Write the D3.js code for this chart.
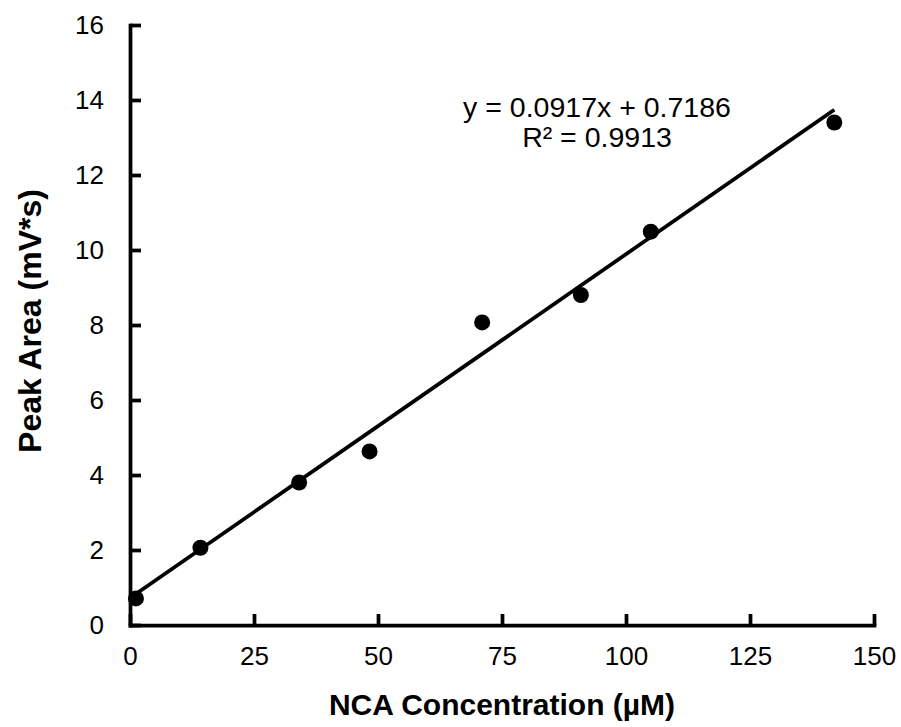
<!DOCTYPE html>
<html>
<head>
<meta charset="utf-8">
<script src="https://cdn.jsdelivr.net/npm/d3@7"></script>
<style>
  body { margin: 0; background: #fff; }
  text { font-family: "Liberation Sans", Arial, sans-serif; fill: #000; }
</style>
</head>
<body>
<div id="chart"></div>
<script>
// Data
let concX = [1.2, 14.2, 34.1, 48.3, 71.0, 90.9, 105.0, 142.0];
let peakY = [0.71, 2.06, 3.8, 4.63, 8.07, 8.8, 10.49, 13.4];
let xTicks = [0, 25, 50, 75, 100, 125, 150];
let yTicks = [0, 2, 4, 6, 8, 10, 12, 14, 16];
let slope = 0.0917, intercept = 0.7186;
let eqLines = ["y = 0.0917x + 0.7186", "R\u00b2 = 0.9913"];

let margin = { top: 25, right: 27, bottom: 102, left: 130 },
  width = 901 - margin.left - margin.right,
  height = 727 - margin.top - margin.bottom;

let font = "'Liberation Sans', Arial, sans-serif";

let svg = d3
  .select("#chart")
  .append("svg")
  .attr("width", 901)
  .attr("height", 727)
  .append("g")
  .attr("transform", "translate(" + margin.left + "," + margin.top + ")");

let x = d3.scaleLinear().domain([0, 150]).range([0, width]);
let y = d3.scaleLinear().domain([0, 16]).range([height, 0]);

// x-axis, ticks pointing inward
let xAxisEl = svg
  .append("g")
  .attr("class", "x axis")
  .attr("transform", "translate(0," + height + ")")
  .call(d3.axisBottom(x).tickValues(xTicks).tickSize(-11).tickPadding(22).tickSizeOuter(0));

// y-axis, ticks pointing inward
let yAxisEl = svg
  .append("g")
  .attr("class", "y axis")
  .call(d3.axisLeft(y).tickValues(yTicks).tickSize(-11).tickPadding(26).tickSizeOuter(0));

svg.selectAll(".axis").attr("font-family", font).attr("font-size", 26);
svg.selectAll(".axis path, .axis line")
  .attr("stroke", "#000")
  .attr("stroke-width", 3.75);
svg.selectAll(".axis path").attr("stroke-linecap", "square");
svg.selectAll(".axis .tick text").attr("fill", "#000").style("font-size", "26px");

xAxisEl
  .append("text")
  .attr("text-anchor", "middle")
  .attr("fill", "#000")
  .style("font-size", "30px")
  .style("font-weight", "bold")
  .attr("x", width / 2)
  .attr("y", 90)
  .text("NCA Concentration  (\u00b5M)");

yAxisEl
  .append("text")
  .attr("text-anchor", "middle")
  .attr("fill", "#000")
  .style("font-size", "32px")
  .style("font-weight", "bold")
  .attr("transform", "translate(" + -89 + "," + (height / 2 - 4) + ") rotate(-90)")
  .text("Peak Area (mV*s)");

// Points
svg
  .append("g")
  .selectAll("circle")
  .data(concX)
  .join("circle")
  .attr("cx", (d) => x(d))
  .attr("cy", (d, i) => y(peakY[i]))
  .attr("r", 8)
  .attr("fill", "#000");

// Trendline
let x0 = 0, x1 = d3.max(concX);
svg
  .append("line")
  .attr("x1", x(x0))
  .attr("y1", y(slope * x0 + intercept))
  .attr("x2", x(x1))
  .attr("y2", y(slope * x1 + intercept))
  .attr("stroke", "#000")
  .attr("stroke-width", 3.75);

// Equation label
svg
  .append("g")
  .selectAll("text")
  .data(eqLines)
  .join("text")
  .attr("text-anchor", "middle")
  .style("font-size", "28.5px")
  .attr("x", 467)
  .attr("y", (d, i) => 92 + i * 30)
  .text((d) => d);
</script>
</body>
</html>
